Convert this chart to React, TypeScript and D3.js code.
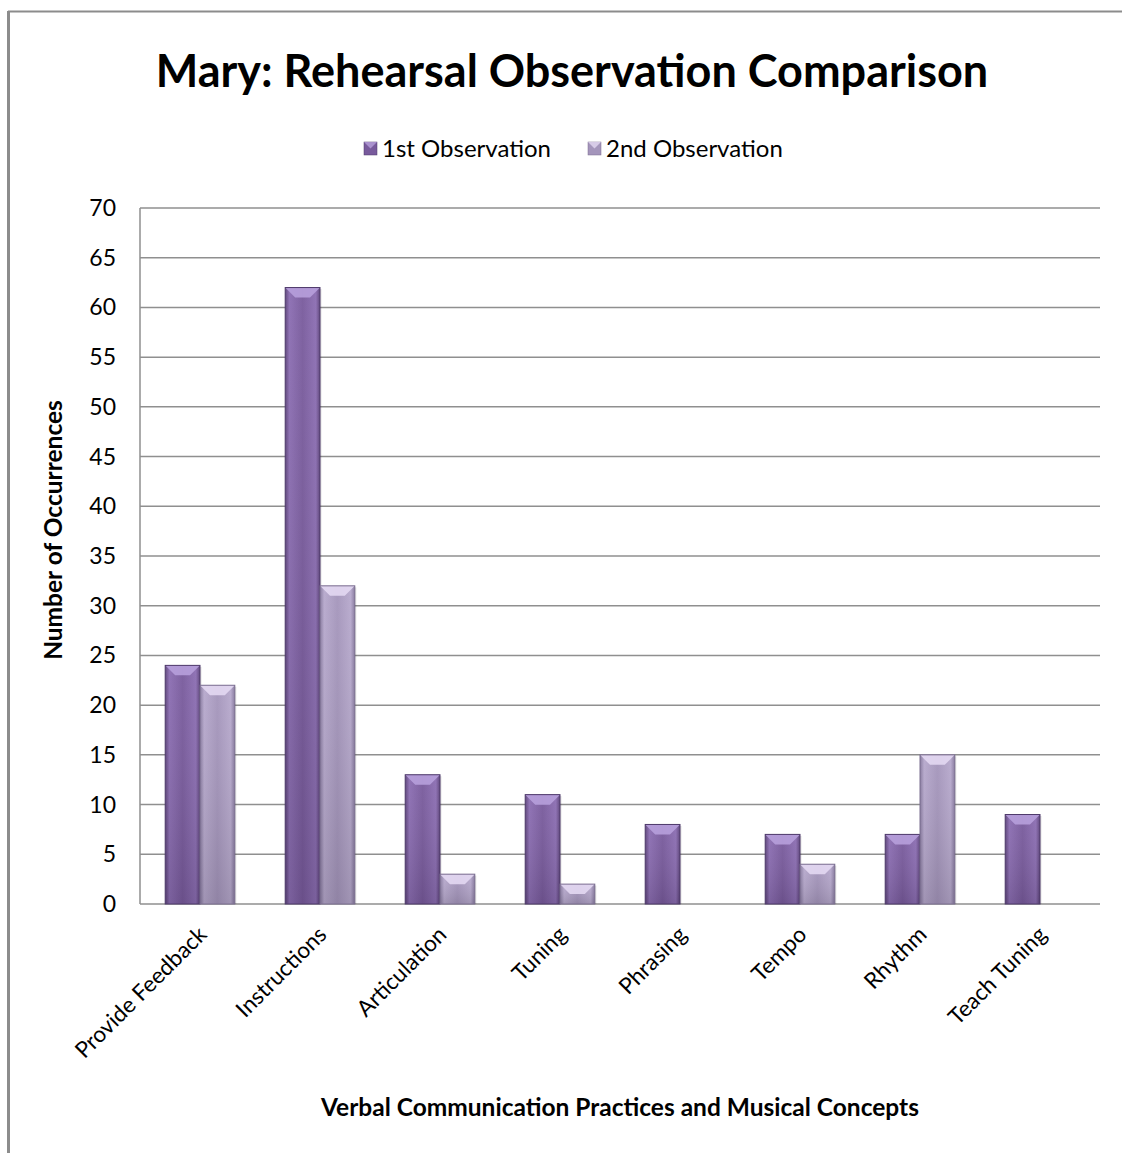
import React from "react";
import * as d3 from "d3";

const categories = [
  "Provide Feedback",
  "Instructions",
  "Articulation",
  "Tuning",
  "Phrasing",
  "Tempo",
  "Rhythm",
  "Teach Tuning",
];
const firstObservation = [24, 62, 13, 11, 8, 7, 7, 9];
const secondObservation = [22, 32, 3, 2, 0, 4, 15, 0];
const seriesNames = ["1st Observation", "2nd Observation"];
const yTicks = [0, 5, 10, 15, 20, 25, 30, 35, 40, 45, 50, 55, 60, 65, 70];

const W = 1122;
const H = 1153;
const margin = { left: 140, right: 1100, top: 208, bottom: 904 };
const FONT = "Lato, 'Open Sans', sans-serif";

const palettes = [
  { base: "#785a9c", dark: "#5b4179", light: "#8b6db2", bevel: "#b7a0db", edge: "#4e3a6a" },
  { base: "#a495bb", dark: "#85779d", light: "#b6a8cc", bevel: "#e3d8f2", edge: "#7b6e90" },
];

export default function App() {
  const x0 = d3
    .scaleBand<string>()
    .domain(categories)
    .range([margin.left, margin.right])
    .paddingInner(0.42)
    .paddingOuter(0.21);
  const x1 = d3
    .scaleBand<number>()
    .domain([0, 1])
    .range([0, x0.bandwidth()]);
  const y = d3.scaleLinear().domain([0, 70]).range([margin.bottom, margin.top]);
  const series = [firstObservation, secondObservation];

  return (
    <svg width={W} height={H} style={{ display: "block", position: "absolute", left: 0, top: 0 }}>
      <defs>
        {palettes.map((p, i) => (
          <linearGradient key={i} id={`bar${i}`} x1="0" x2="1" y1="0" y2="0">
            <stop offset="0" stopColor={p.dark} />
            <stop offset="0.12" stopColor={p.light} />
            <stop offset="0.5" stopColor={p.base} />
            <stop offset="0.88" stopColor={p.light} />
            <stop offset="1" stopColor={p.dark} />
          </linearGradient>
        ))}
        {palettes.map((p, i) => (
          <linearGradient key={i} id={`vert${i}`} x1="0" x2="0" y1="0" y2="1">
            <stop offset="0" stopColor="#ffffff" stopOpacity={0.05} />
            <stop offset="1" stopColor="#000000" stopOpacity={0.12} />
          </linearGradient>
        ))}
      </defs>
      <rect x={0} y={0} width={W} height={H} fill="#fff" />
      {/* outer frame */}
      <line x1={8} x2={W} y1={11.5} y2={11.5} stroke="#8c8c8c" strokeWidth={2} />
      <line x1={8.5} x2={8.5} y1={11} y2={H} stroke="#8c8c8c" strokeWidth={3} />

      <text x={572} y={87} textAnchor="middle" fontFamily={FONT} fontWeight={700} fontSize={45} fill="#000">
        Mary: Rehearsal Observation Comparison
      </text>

      {/* legend */}
      {seriesNames.map((name, i) => {
        const lx = i === 0 ? 364 : 588;
        const p = palettes[i];
        return (
          <g key={name}>
            <rect x={lx} y={142} width={13} height={13} fill={p.base} stroke={p.edge} strokeWidth={0.5} />
            <polygon points={`${lx},142 ${lx + 13},142 ${lx + 6.5},148.5`} fill={p.bevel} opacity={0.8} />
            <text x={lx + 18} y={157} fontFamily={FONT} fontSize={24} fill="#000">
              {name}
            </text>
          </g>
        );
      })}

      {/* gridlines */}
      {yTicks.map((t) => (
        <line
          key={t}
          x1={margin.left}
          x2={margin.right}
          y1={y(t)}
          y2={y(t)}
          stroke="#8f8f8f"
          strokeWidth={1.5}
        />
      ))}
      <line x1={margin.left} x2={margin.left} y1={margin.top} y2={margin.bottom} stroke="#8f8f8f" strokeWidth={1.5} />
      {yTicks.map((t) => (
        <text
          key={t}
          x={116}
          y={y(t) + 8}
          textAnchor="end"
          fontFamily={FONT}
          fontSize={23}
          fill="#000"
        >
          {t}
        </text>
      ))}

      {/* bars */}
      {categories.map((c, ci) =>
        series.map((vals, si) => {
          const v = vals[ci];
          if (v <= 0) return null;
          const bx = (x0(c) as number) + (x1(si) as number);
          const bw = x1.bandwidth();
          const by = y(v);
          const bh = y(0) - by;
          const p = palettes[si];
          const bev = Math.min(10, bh / 2);
          return (
            <g key={`${c}-${si}`}>
              <rect x={bx + 1.5} y={by + 1.5} width={bw} height={bh - 1.5} fill="#000" opacity={0.12} />
              <rect x={bx} y={by} width={bw} height={bh} fill={`url(#bar${si})`} />
              <rect x={bx} y={by} width={bw} height={bh} fill={`url(#vert${si})`} />
              <polygon
                points={`${bx},${by} ${bx + bw},${by} ${bx + bw - bev},${by + bev} ${bx + bev},${by + bev}`}
                fill={p.bevel}
                opacity={0.9}
              />
              <rect x={bx} y={by} width={bw} height={bh} fill="none" stroke={p.edge} strokeWidth={1} />
            </g>
          );
        })
      )}

      {/* category labels */}
      {categories.map((c) => {
        const cx = (x0(c) as number) + x0.bandwidth() / 2;
        return (
          <text
            key={c}
            transform={`translate(${cx + 8},${margin.bottom + 32}) rotate(-45)`}
            textAnchor="end"
            fontFamily={FONT}
            fontSize={22.5}
            fill="#000"
          >
            {c}
          </text>
        );
      })}

      <text x={620} y={1116} textAnchor="middle" fontFamily={FONT} fontWeight={700} fontSize={24.5} fill="#000">
        Verbal Communication Practices and Musical Concepts
      </text>
      <text
        transform={`translate(62,530) rotate(-90)`}
        textAnchor="middle"
        fontFamily={FONT}
        fontWeight={700}
        fontSize={24.5}
        fill="#000"
      >
        Number of Occurrences
      </text>
    </svg>
  );
}
